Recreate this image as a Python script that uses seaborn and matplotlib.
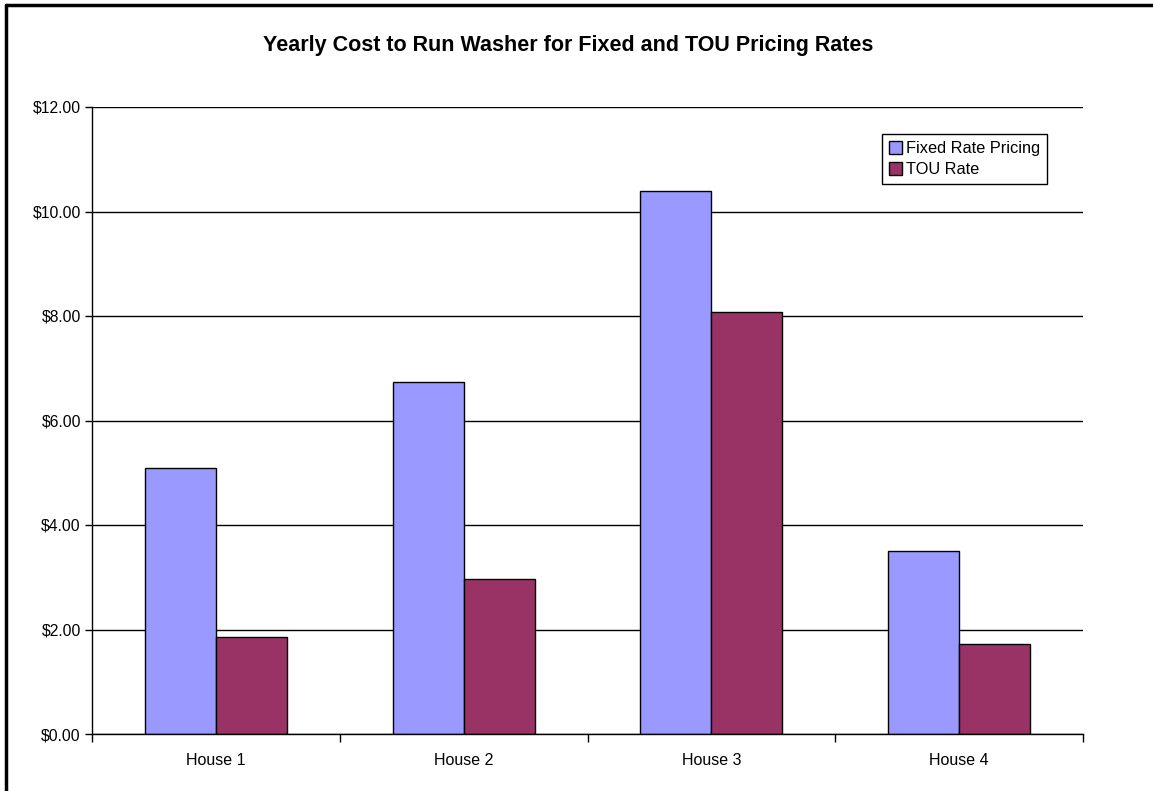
import pandas as pd
import seaborn as sns
import matplotlib
matplotlib.use('Agg')
import matplotlib.pyplot as plt
from matplotlib.lines import Line2D
from matplotlib.ticker import FuncFormatter, FixedLocator

houses = ['House 1', 'House 2', 'House 3', 'House 4']
fixed_rate = [5.09, 6.74, 10.39, 3.51]
tou_rate = [1.86, 2.97, 8.08, 1.72]
series_names = ['Fixed Rate Pricing', 'TOU Rate']
colors = ['#9999FF', '#993366']
title = 'Yearly Cost to Run Washer for Fixed and TOU Pricing Rates'

df = pd.DataFrame({
    'house': houses * 2,
    'cost': fixed_rate + tou_rate,
    'series': [series_names[0]] * 4 + [series_names[1]] * 4,
})

sns.set_style('white')
plt.rcParams['font.family'] = ['Liberation Sans', 'DejaVu Sans']
plt.rcParams['text.color'] = 'black'
plt.rcParams['xtick.color'] = 'black'
plt.rcParams['ytick.color'] = 'black'

fig = plt.figure(figsize=(11.53, 7.91), dpi=100)
ax = fig.add_axes([92 / 1153, 1 - 734 / 791, (1083 - 92) / 1153, (734 - 107) / 791])

sns.barplot(data=df, x='house', y='cost', hue='series', palette=colors,
            width=0.573, edgecolor='black', linewidth=1.0, saturation=1,
            ax=ax, legend=True)

ax.set_ylim(0, 12)
ax.set_xlim(-0.5, 3.5)
ax.set_yticks([0, 2, 4, 6, 8, 10, 12])
ax.yaxis.set_major_formatter(FuncFormatter(lambda v, p: '${:.2f}'.format(v)))
ax.yaxis.grid(True, color='black', linewidth=1.0)
ax.set_axisbelow(True)
ax.set_xlabel('')
ax.set_ylabel('')

# category separators as ticks, labels in the middle
ax.xaxis.set_major_locator(FixedLocator([-0.5, 0.5, 1.5, 2.5, 3.5]))
ax.xaxis.set_major_formatter(FuncFormatter(lambda v, p: ''))
ax.xaxis.set_minor_locator(FixedLocator([0, 1, 2, 3]))
ax.set_xticklabels(houses, minor=True)
ax.tick_params(axis='x', which='major', direction='out', length=6, width=1, color='black', bottom=True)
ax.tick_params(axis='x', which='minor', length=0, labelsize=11.5, pad=14, labelcolor='black')
ax.tick_params(axis='y', direction='out', length=5, width=1, color='black', left=True,
               labelsize=11.3, pad=3, labelcolor='black')

for s in ['top', 'right']:
    ax.spines[s].set_visible(False)
for s in ['left', 'bottom']:
    ax.spines[s].set_color('black')
    ax.spines[s].set_linewidth(1.0)

handles = [plt.Rectangle((0, 0), 1, 1, facecolor=c, edgecolor='black', linewidth=1) for c in colors]
leg = ax.legend(handles, series_names, loc='upper left', bbox_to_anchor=(790 / 991, 1 - 27 / 627),
                frameon=True, fancybox=False, edgecolor='black', framealpha=1,
                fontsize=11.8, handlelength=0.8, handleheight=0.8, handletextpad=0.2,
                borderpad=0.45, labelspacing=0.35, borderaxespad=0)
leg.get_frame().set_linewidth(1.0)

fig.text(568 / 1153, 1 - 45 / 791, title, ha='center', va='center',
         fontsize=15.5, fontweight='bold', color='black')

# chart border (only top and left edges visible)
fig.add_artist(Line2D([5.5 / 1153, 5.5 / 1153], [0, 1 - 5 / 791], color='black', linewidth=2.5, transform=fig.transFigure))
fig.add_artist(Line2D([5.5 / 1153, 1], [1 - 5 / 791, 1 - 5 / 791], color='black', linewidth=2.5, transform=fig.transFigure))

fig.savefig('out.png', dpi=100)
